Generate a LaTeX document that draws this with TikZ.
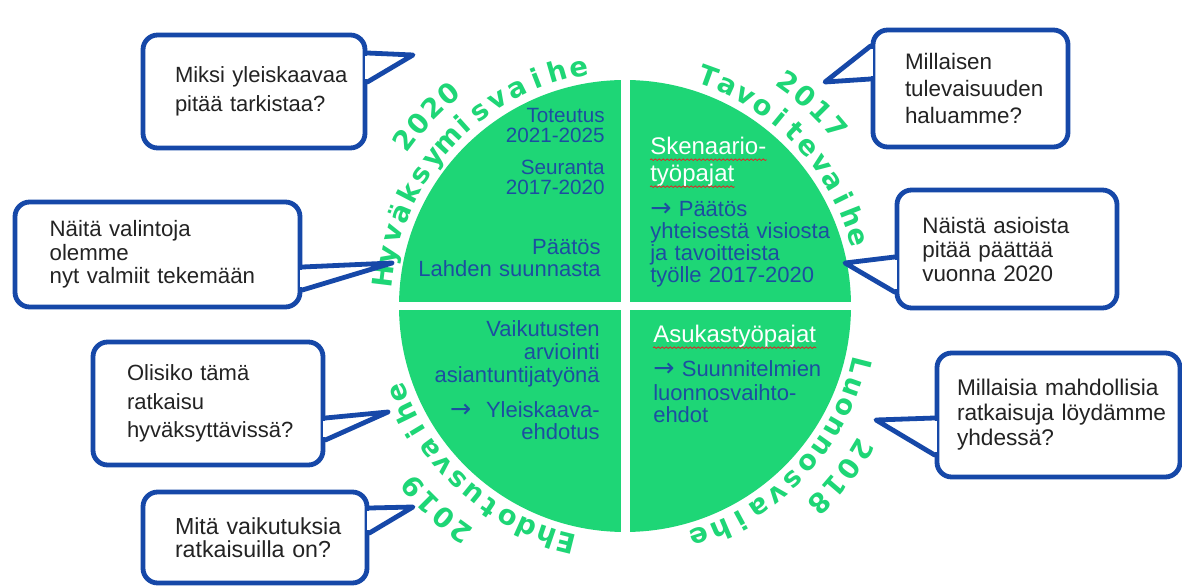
\documentclass[tikz,border=0pt]{standalone}
\usepackage{fontspec}
\setmainfont{Liberation Sans}
\newfontfamily\arcfont{DejaVu Sans}
\usepackage{tikz}
\usetikzlibrary{calc, decorations.pathmorphing}

\definecolor{phasegreen}{RGB}{30,214,118}
\definecolor{quadblue}{RGB}{28,78,160}
\definecolor{bubbleblue}{RGB}{22,72,168}
\definecolor{bubbletext}{RGB}{35,35,35}
\definecolor{spellred}{RGB}{220,40,40}

\newcommand{\quadarrow}{{\arcfont\fontsize{19}{16}\selectfont →}}

\begin{document}
\begin{tikzpicture}[x=0.75pt, y=0.75pt,
        arcletter/.style={anchor=base, inner sep=0, text=phasegreen, font=\arcfont\bfseries\fontsize{20.5}{20.5}\selectfont},
        quadtext/.style={inner sep=0, text=quadblue, text width=150pt},
        header/.style={inner sep=0, text=white, font=\fontsize{18}{18}\selectfont},
        bubble/.style={draw=bubbleblue, line width=3.6pt, rounded corners=11pt, fill=white, text=bubbletext, align=left, inner ysep=2pt, execute at begin node={\hyphenpenalty=10000\exhyphenpenalty=10000}},
        tail/.style={draw=bubbleblue, line width=3.6pt, line join=round, line cap=round, fill=white},
        squiggle/.style={spellred, line width=0.6pt, decorate, decoration={snake, amplitude=0.6pt, segment length=3pt}}]
        \fill [white] (0, 0) rectangle (1182, 586);
        \useasboundingbox (0, 0) rectangle (1182, 586);

        % the four phases
        \coordinate (c) at (625, 280);
        \fill [phasegreen] (c) circle (226);
        \fill [white] (620.5, 40) rectangle (629.5, 520);
        \fill [white] (390, 276) rectangle (860, 284);

        \begin{scope}[shift={(c)}]
            \foreach \ch [count=\i from 0] in {H,y,v,ä,k,s,y,m,i,s,v,a,i,h,e}
                \node [arcletter, rotate={83-5.143*\i}] (hy\i) at ({173-5.143*\i}:234) {\ch};
            \foreach \ch [count=\i from 0] in {2,0,2,0}
                \node [arcletter, rotate={53-4.4*\i}] (hyyear\i) at ({143-4.4*\i}:266) {\ch};
            \foreach \ch [count=\i from 0] in {T,a,v,o,i,t,e,v,a,i,h,e}
                \node [arcletter, rotate={-20-4.86*\i}] (ta\i) at ({70-4.86*\i}:234) {\ch};
            \foreach \ch [count=\i from 0] in {2,0,1,7}
                \node [arcletter, rotate={-36-4.6*\i}] (tayear\i) at ({54-4.6*\i}:267) {\ch};
            \foreach \ch [count=\i from 0] in {L,u,o,n,n,o,s,v,a,i,h,e}
                \node [arcletter, rotate={-104.3-5.25*\i}] (lu\i) at ({-14.3-5.25*\i}:234) {\ch};
            \foreach \ch [count=\i from 0] in {2,0,1,8}
                \node [arcletter, rotate={-121.3-4.67*\i}] (luyear\i) at ({-31.3-4.67*\i}:267) {\ch};
            \foreach \ch [count=\i from 0] in {E,h,d,o,t,u,s,v,a,i,h,e}
                \node [arcletter, rotate={166-5*\i}] (eh\i) at ({256-5*\i}:234) {\ch};
            \foreach \ch [count=\i from 0] in {2,0,1,9}
                \node [arcletter, rotate={144-4.5*\i}] (ehyear\i) at ({234-4.5*\i}:269) {\ch};
        \end{scope}

        % texts inside the quarters
        \node [quadtext, anchor=base east, align=right, font=\fontsize{15.5}{15}\selectfont] (toteutus) at (605, 463) {Toteutus\\2021-2025};
        \node [quadtext, anchor=base east, align=right, font=\fontsize{15.5}{15}\selectfont] (seuranta) at (605, 411) {Seuranta\\2017-2020};
        \node [quadtext, anchor=base east, align=right, font=\fontsize{16.5}{16.5}\selectfont] (paatos) at (601, 331) {Päätös\\Lahden suunnasta};

        \node [header, anchor=base west] (skenaario) at (650, 431) {Skenaario-};
        \node [header, anchor=base west] (tyopajat) at (650, 404) {työpajat};
        \node [quadtext, anchor=base west, align=left, font=\fontsize{16.5}{16.3}\selectfont] (visio) at (650, 369) {\quadarrow\ Päätös\\yhteisestä visiosta\\ja tavoitteista\\työlle 2017-2020};

        \node [quadtext, anchor=base east, align=right, font=\fontsize{16.5}{16.9}\selectfont] (arviointi) at (600, 249) {Vaikutusten\\arviointi\\asiantuntijatyönä};
        \node [quadtext, anchor=base east, align=right, font=\fontsize{16.5}{16.5}\selectfont] (ehdotus) at (600, 168) {\quadarrow\ \ Yleiskaava-\\ehdotus};

        \node [header, anchor=base west] (asukas) at (653, 243) {Asukastyöpajat};
        \node [quadtext, anchor=base west, align=left, font=\fontsize{16.5}{17.25}\selectfont] (luonnos) at (653, 209) {\quadarrow\ Suunnitelmien\\luonnosvaihto-\\ehdot};

        \foreach \n in {skenaario, tyopajat, asukas}
            \draw [squiggle] ([yshift=-3.5pt]\n.base west) -- ([yshift=-3.5pt]\n.base east);

        % speech bubbles
        \node [bubble, text width=118.5pt, inner xsep=24pt, minimum height=84.75pt, font=\fontsize{16.5}{21.75}\selectfont] (miksi) at (254, 494.5) {Miksi~yleiskaavaa\\pitää~tarkistaa?};
        \coordinate (miksitip) at (413, 531);
        \draw [white, line width=4.2pt] (miksi.east |- 0,530) -- (miksi.east |- 0,507);
        \filldraw [tail] (miksi.east |- 0,533) -- (miksitip) -- (miksi.east |- 0,504);

        \node [bubble, text width=98.25pt, inner xsep=24pt, minimum height=87.75pt, font=\fontsize{16.8}{20.6}\selectfont] (millaisen) at (970.5, 497.5) {Millaisen\\tulevaisuuden\\haluamme?};
        \coordinate (millaisentip) at (825, 504);
        \draw [white, line width=4.2pt] (millaisen.west |- 0,537) -- (millaisen.west |- 0,510);
        \filldraw [tail] (millaisen.west |- 0,540) -- (millaisentip) -- (millaisen.west |- 0,507);

        \node [bubble, text width=161.75pt, inner xsep=26pt, minimum height=78.75pt, font=\fontsize{16.7}{17.6}\selectfont] (valintoja) at (157.5, 331.5) {Näitä~valintoja\\olemme\\nyt~valmiit~tekemään};
        \coordinate (valintojatip) at (392, 323);
        \draw [white, line width=4.2pt] (valintoja.east |- 0,316) -- (valintoja.east |- 0,299);
        \filldraw [tail] (valintoja.east |- 0,319) -- (valintojatip) -- (valintoja.east |- 0,296);

        \node [bubble, text width=127pt, inner xsep=19pt, minimum height=88.5pt, font=\fontsize{16.8}{18}\selectfont] (asioista) at (1007, 337) {Näistä~asioista\\pitää~päättää\\vuonna~2020};
        \coordinate (asioistatip) at (845, 323);
        \draw [white, line width=4.2pt] (asioista.west |- 0,326) -- (asioista.west |- 0,297);
        \filldraw [tail] (asioista.west |- 0,329) -- (asioistatip) -- (asioista.west |- 0,294);

        \node [bubble, text width=121.5pt, inner xsep=25.5pt, minimum height=92.25pt, font=\fontsize{16.5}{21.4}\selectfont] (olisiko) at (208, 182.5) {Olisiko~tämä\\ratkaisu\\hyväksyttävissä?};
        \coordinate (olisikotip) at (388, 174);
        \draw [white, line width=4.2pt] (olisiko.east |- 0,165) -- (olisiko.east |- 0,149);
        \filldraw [tail] (olisiko.east |- 0,168) -- (olisikotip) -- (olisiko.east |- 0,146);

        \node [bubble, text width=152.25pt, inner xsep=15pt, minimum height=93pt, font=\fontsize{17}{18.75}\selectfont] (ratkaisuja) at (1058.5, 171) {Millaisia~mahdollisia\\ratkaisuja~löydämme\\yhdessä?};
        \coordinate (ratkaisujatip) at (876, 166);
        \draw [white, line width=4.2pt] (ratkaisuja.west |- 0,165) -- (ratkaisuja.west |- 0,134);
        \filldraw [tail] (ratkaisuja.west |- 0,168) -- (ratkaisujatip) -- (ratkaisuja.west |- 0,131);

        \node [bubble, text width=120pt, inner xsep=24pt, minimum height=68.25pt, font=\fontsize{17.4}{17.6}\selectfont] (vaikutuksia) at (255, 48.5) {Mitä~vaikutuksia\\ratkaisuilla~on?};
        \coordinate (vaikutuksiatip) at (413, 79);
        \draw [white, line width=4.2pt] (vaikutuksia.east |- 0,75) -- (vaikutuksia.east |- 0,56);
        \filldraw [tail] (vaikutuksia.east |- 0,78) -- (vaikutuksiatip) -- (vaikutuksia.east |- 0,53);
    \end{tikzpicture}
\end{document}
